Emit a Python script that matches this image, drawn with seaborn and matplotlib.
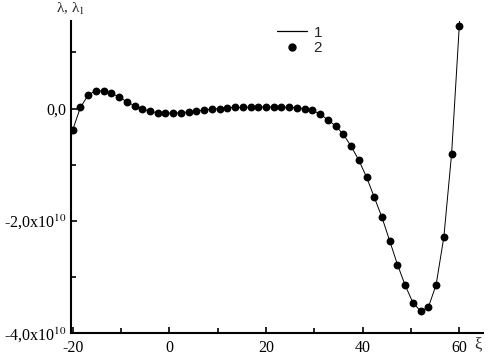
import matplotlib
matplotlib.use("Agg")
import matplotlib.pyplot as plt
import seaborn as sns
import pandas as pd
from matplotlib.lines import Line2D
from matplotlib.ticker import MultipleLocator


# ---------------------------------------------------------
# Data (lambda values in units of 1e10)
# ---------------------------------------------------------

xi = [
    -20.0, -18.4, -16.8, -15.2, -13.6, -12.0, -10.4, -8.8, -7.2, -5.6,
    -4.0, -2.4, -0.8, 0.8, 2.4, 4.0, 5.6, 7.2, 8.8, 10.4,
    12.0, 13.6, 15.2, 16.8, 18.4, 20.0, 21.6, 23.2, 24.8, 26.4,
    28.0, 29.6, 31.2, 32.8, 34.4, 36.0, 37.6, 39.2, 40.8, 42.4,
    44.0, 45.6, 47.2, 48.8, 50.4, 52.0, 53.6, 55.2, 56.8, 58.4,
    60.0,
]

lam_points = [
    -0.38, 0.02, 0.24, 0.32, 0.31, 0.27, 0.21, 0.12, 0.05, 0.00,
    -0.05, -0.075, -0.08, -0.08, -0.075, -0.06, -0.045, -0.027, -0.01, 0.00,
    0.015, 0.02, 0.02, 0.027, 0.027, 0.027, 0.027, 0.027, 0.02, 0.015,
    -0.003, -0.03, -0.10, -0.20, -0.31, -0.46, -0.67, -0.92, -1.22, -1.58,
    -1.94, -2.36, -2.78, -3.15, -3.46, -3.61, -3.54, -3.14, -2.29, -0.81,
    1.48,
]

# curve 1 runs a little past the first and last points
line_x = [-20.4] + xi + [60.1]
line_y = [-0.55] + lam_points + [1.6]

x_ticks = [-20, 0, 20, 40, 60]
y_ticks = [0, -2, -4]
y_tick_labels = ["0,0", "-2,0x10$^{10}$", "-4,0x10$^{10}$"]


# ---------------------------------------------------------
# Plot
# ---------------------------------------------------------

sns.set_style("ticks")
plt.rcParams["font.family"] = ["Liberation Serif", "DejaVu Serif"]
plt.rcParams["mathtext.fontset"] = "stix"
plt.rcParams["axes.unicode_minus"] = False

fig = plt.figure(figsize=(4.91, 3.58), dpi=100)
ax = fig.add_axes([0.1446, 0.0698, 0.8391, 0.8715])

df_line = pd.DataFrame({"xi": line_x, "lam": line_y})
df_pts = pd.DataFrame({"xi": xi, "lam": lam_points})

sns.lineplot(
    data=df_line,
    x="xi",
    y="lam",
    color="black",
    linewidth=0.7,
    sort=False,
    ax=ax
)

sns.scatterplot(
    data=df_pts,
    x="xi",
    y="lam",
    color="black",
    s=32,
    linewidth=0,
    ax=ax,
    zorder=3
)

ax.set_xlim(-20.35, 64.9)
ax.set_ylim(-4.0, 1.56)

ax.set_xticks(x_ticks)
ax.set_xticklabels([str(t) for t in x_ticks])
ax.set_yticks(y_ticks)
ax.set_yticklabels(y_tick_labels)
ax.xaxis.set_minor_locator(MultipleLocator(10))
ax.yaxis.set_minor_locator(MultipleLocator(1))

ax.tick_params(which="both", direction="in", width=1.2, labelsize=11.5, colors="black")
ax.tick_params(which="major", length=4)
ax.tick_params(which="minor", length=3.5)
ax.tick_params(axis="x", pad=5)
ax.tick_params(axis="y", pad=3)

sns.despine(ax=ax)
for side in ["left", "bottom"]:
    ax.spines[side].set_linewidth(1.5)
    ax.spines[side].set_color("black")

ax.set_xlabel("")
ax.set_ylabel("")

fig.text(70 / 491, 1 - 9 / 358, "λ, λ$_1$", ha="center", va="center", fontsize=11)
fig.text(478 / 491, 1 - 344 / 358, "ξ", ha="center", va="center", fontsize=12)

handles = [
    Line2D([], [], color="black", linewidth=0.9),
    Line2D([], [], color="black", marker="o", linestyle="none", markersize=5),
]
ax.legend(
    handles,
    ["1", "2"],
    loc="upper left",
    bbox_to_anchor=(263 / 491, 1 - 12 / 358),
    bbox_transform=fig.transFigure,
    frameon=False,
    handlelength=2.0,
    handletextpad=0.4,
    labelspacing=0.1,
    prop={"family": "Liberation Sans", "size": 11},
)

plt.savefig("out.png", dpi=100)
